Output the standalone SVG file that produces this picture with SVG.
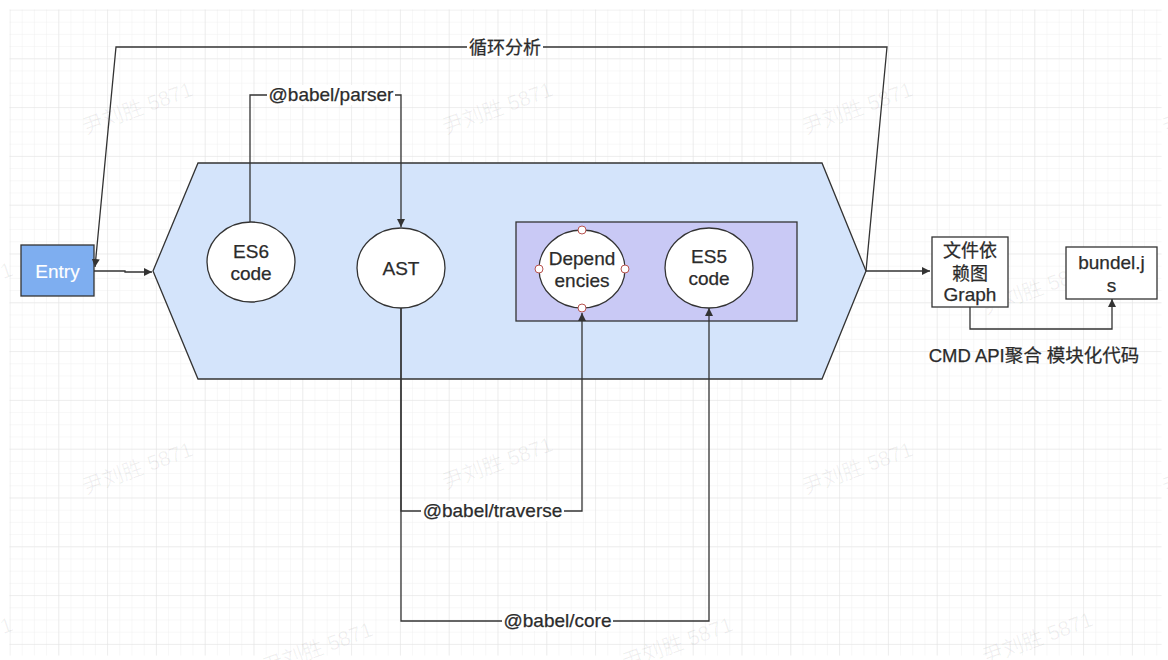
<svg xmlns="http://www.w3.org/2000/svg" width="1168" height="660" viewBox="0 0 1168 660">
<style>
.t{font-family:"Liberation Sans","Noto Sans CJK SC",sans-serif;font-size:19px;fill:#2b2b2b;stroke:#2b2b2b;stroke-width:0.25;text-anchor:middle}
.c{font-size:18px}
.wm{font-family:"Liberation Sans","Noto Sans CJK SC",sans-serif;font-size:21px;fill:#000;fill-opacity:0.06;text-anchor:middle}
.ln{fill:none;stroke:#333;stroke-width:1.3}
.nd{stroke:#333;stroke-width:1.3}
.lb{fill:#fff}
</style>
<defs>
<pattern id="minor" x="9.5" y="9.5" width="12.2" height="12.2" patternUnits="userSpaceOnUse">
<path d="M0 0H12.2M0 0V12.2" fill="none" stroke="#f0f0f0" stroke-width="1"/>
</pattern>
<pattern id="major" x="9.5" y="9.5" width="48.8" height="48.8" patternUnits="userSpaceOnUse">
<path d="M0 0H48.8M0 0V48.8" fill="none" stroke="#e4e4e4" stroke-width="1"/>
</pattern>
<marker id="ar" viewBox="0 0 10 10" refX="10" refY="5" markerWidth="8" markerHeight="8" markerUnits="userSpaceOnUse" orient="auto">
<path d="M0 0L10 5L0 10z" fill="#333"/>
</marker>
</defs>
<rect width="1168" height="660" fill="#fff"/>
<rect x="9.5" y="9.5" width="1152" height="646" fill="url(#minor)"/>
<rect x="9.5" y="9.5" width="1152" height="646" fill="url(#major)"/>
<g id="watermarks">
<text class="wm" transform="translate(140,115) rotate(-20)">尹刘胜 5871</text>
<text class="wm" transform="translate(500,115) rotate(-20)">尹刘胜 5871</text>
<text class="wm" transform="translate(860,115) rotate(-20)">尹刘胜 5871</text>
<text class="wm" transform="translate(1220,115) rotate(-20)">尹刘胜 5871</text>
<text class="wm" transform="translate(-40,295) rotate(-20)">尹刘胜 5871</text>
<text class="wm" transform="translate(320,295) rotate(-20)">尹刘胜 5871</text>
<text class="wm" transform="translate(680,295) rotate(-20)">尹刘胜 5871</text>
<text class="wm" transform="translate(1040,295) rotate(-20)">尹刘胜 5871</text>
<text class="wm" transform="translate(140,475) rotate(-20)">尹刘胜 5871</text>
<text class="wm" transform="translate(500,470) rotate(-20)">尹刘胜 5871</text>
<text class="wm" transform="translate(860,475) rotate(-20)">尹刘胜 5871</text>
<text class="wm" transform="translate(1220,475) rotate(-20)">尹刘胜 5871</text>
<text class="wm" transform="translate(-40,650) rotate(-20)">尹刘胜 5871</text>
<text class="wm" transform="translate(320,655) rotate(-20)">尹刘胜 5871</text>
<text class="wm" transform="translate(680,650) rotate(-20)">尹刘胜 5871</text>
<text class="wm" transform="translate(1040,645) rotate(-20)">尹刘胜 5871</text>
</g>
<g id="process">
<polygon class="nd" points="198,163 822,163 866,271 822,379 198,379 153,271" fill="#d4e4fb"/>
</g>
<g id="group">
<rect class="nd" x="516" y="222" width="281" height="99" fill="#c9c9f5"/>
</g>
<g id="entry">
<rect class="nd" x="21" y="245" width="73" height="51" fill="#7eaef0"/>
<text class="t" x="57.5" y="278" style="fill:#fff;stroke:#fff;stroke-width:0.15">Entry</text>
</g>
<g id="es6">
<ellipse class="nd" cx="251" cy="262" rx="44" ry="40" fill="#fff"/>
<text class="t" x="251" y="258">ES6</text>
<text class="t" x="251" y="280">code</text>
</g>
<g id="ast">
<ellipse class="nd" cx="401" cy="268" rx="44" ry="40" fill="#fff"/>
<text class="t" x="401" y="275">AST</text>
</g>
<g id="deps">
<ellipse class="nd" cx="582" cy="269" rx="43" ry="39" fill="#fff"/>
<text class="t" x="582" y="265">Depend</text>
<text class="t" x="582" y="287">encies</text>
<g fill="#fff" stroke="#b85450" stroke-width="1">
<circle cx="582" cy="230" r="4"/>
<circle cx="582" cy="308" r="4"/>
<circle cx="539" cy="269" r="4"/>
<circle cx="625" cy="269" r="4"/>
</g>
</g>
<g id="es5">
<ellipse class="nd" cx="709" cy="268" rx="44" ry="40" fill="#fff"/>
<text class="t" x="709" y="263">ES5</text>
<text class="t" x="709" y="285">code</text>
</g>
<g id="graph">
<rect class="nd" x="932" y="237" width="76" height="70" fill="#fff"/>
<text class="t c" x="970" y="257">文件依</text>
<text class="t c" x="970" y="280">赖图</text>
<text class="t" x="970" y="301">Graph</text>
</g>
<g id="bundle">
<rect class="nd" x="1066" y="247" width="91" height="52" fill="#fff"/>
<text class="t" x="1111.5" y="269">bundel.j</text>
<text class="t" x="1111.5" y="292">s</text>
</g>
<g id="connectors">
<polyline class="ln" points="94,271 125,271 125,272 152,272" marker-end="url(#ar)"/>
<polyline class="ln" stroke-width="1.1" points="866,271 887,47 116,47 95,267" marker-end="url(#ar)"/>
<polyline class="ln" points="866,271 930,271" marker-end="url(#ar)"/>
<polyline class="ln" points="250,222 250,95 401,95 401,227" marker-end="url(#ar)"/>
<polyline class="ln" points="401,308 401,511 582,511 582,313" marker-end="url(#ar)"/>
<polyline class="ln" points="401,308 401,621 709,621 709,308" marker-end="url(#ar)"/>
<polyline class="ln" points="970,307 970,329 1112,329 1112,299" marker-end="url(#ar)"/>
</g>
<g id="labels">
<rect class="lb" x="467" y="37" width="76" height="20"/>
<text class="t c" x="505" y="54">循环分析</text>
<rect class="lb" x="267" y="85" width="128" height="20"/>
<text class="t" x="331" y="101">@babel/parser</text>
<rect class="lb" x="421" y="501" width="143" height="20"/>
<text class="t" x="492.5" y="517">@babel/traverse</text>
<rect class="lb" x="502" y="611" width="111" height="20"/>
<text class="t" x="557.5" y="627">@babel/core</text>
<text class="t" x="1034" y="362" style="font-size:18.5px">CMD API聚合 模块化代码</text>
</g>
</svg>
